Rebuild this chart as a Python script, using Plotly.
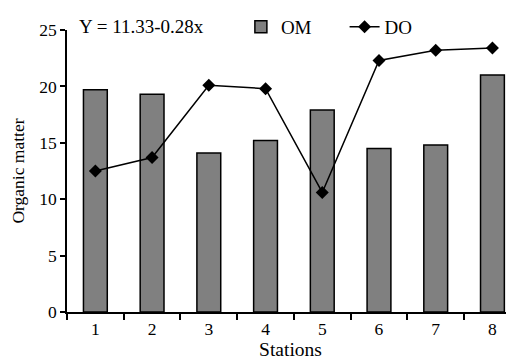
import plotly.graph_objects as go

stations = ["1", "2", "3", "4", "5", "6", "7", "8"]
om_values = [19.7, 19.3, 14.1, 15.2, 17.9, 14.5, 14.8, 21.0]
do_values = [12.5, 13.7, 20.1, 19.8, 10.6, 22.3, 23.2, 23.4]
y_ticks = [0, 5, 10, 15, 20, 25]
equation = "Y = 11.33-0.28x"

FAM = "Liberation Serif"
tick_font = dict(family=FAM, size=17.5, color="black")
legend_font = dict(family=FAM, size=19, color="black")

fig = go.Figure()
fig.add_trace(go.Bar(
    x=stations, y=om_values, name="OM", width=0.42, legend="legend",
    marker=dict(color="#808080", line=dict(color="black", width=1.5)),
))
fig.add_trace(go.Scatter(
    x=stations, y=do_values, name="DO", mode="lines+markers", legend="legend2",
    line=dict(color="black", width=1.5),
    marker=dict(symbol="diamond", size=10, color="black"),
))

fig.add_annotation(
    text=equation, xref="paper", yref="paper", x=0.022, y=1.012,
    xanchor="left", yanchor="middle", showarrow=False, font=legend_font,
)

fig.update_layout(
    width=506, height=352,
    margin=dict(l=59, r=0, t=12, b=48),
    plot_bgcolor="white", paper_bgcolor="white",
    font=tick_font,
    showlegend=True,
    legend=dict(orientation="h", x=0.389, y=1.012, xanchor="left", yanchor="middle",
                bgcolor="rgba(0,0,0,0)", font=legend_font, itemwidth=30),
    legend2=dict(orientation="h", x=0.621, y=1.012, xanchor="left", yanchor="middle",
                 bgcolor="rgba(0,0,0,0)", font=legend_font, itemwidth=30),
    xaxis=dict(
        type="category", range=[-0.5, 7.38],
        showline=True, linecolor="black", linewidth=2,
        ticks="outside", tickson="boundaries", ticklen=6, tickwidth=2, tickcolor="black",
        showgrid=False, zeroline=False,
        title=dict(text="Stations", font=dict(family=FAM, size=19.5, color="black"), standoff=2),
        tickfont=tick_font,
    ),
    yaxis=dict(
        range=[0, 25], tickvals=y_ticks,
        showline=True, linecolor="black", linewidth=1.5,
        ticks="outside", ticklen=5, tickwidth=1.5, tickcolor="black",
        showgrid=False, zeroline=False,
        title=dict(text="Organic matter", font=dict(family=FAM, size=17.5, color="black"), standoff=12),
        tickfont=tick_font,
    ),
)

fig.write_html("out.html")
